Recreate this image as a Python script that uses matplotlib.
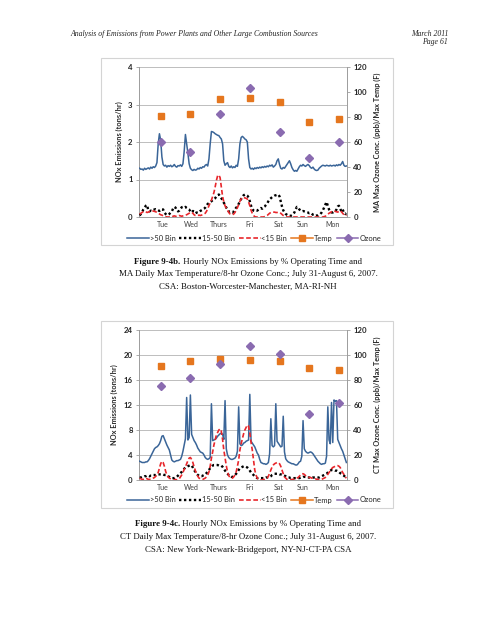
import matplotlib
matplotlib.use("Agg")
import matplotlib.pyplot as plt
from matplotlib.patches import Rectangle
from matplotlib.lines import Line2D
import numpy as np

# ---------------- data ----------------
days = ["Tue", "Wed", "Thurs", "Fri", "Sat", "Sun", "Mon"]
series_labels = [">50 Bin", "15-50 Bin", "<15 Bin", "Temp", "Ozone"]

# Chart 1: MA (Boston-Worcester-Manchester), hourly NOx (tons/hr)
ma_gt50 = [1.30,1.27,1.28,1.25,1.30,1.27,1.29,1.31,1.28,1.33,1.30,1.34,
           1.32,1.36,1.45,1.95,2.22,2.05,1.60,1.40,1.36,1.38,1.33,1.37,
           1.35,1.38,1.34,1.36,1.40,1.35,1.33,1.37,1.36,1.39,1.35,1.42,
           1.75,2.20,1.95,1.70,1.42,1.30,1.26,1.24,1.27,1.25,1.26,1.30,
           1.28,1.32,1.30,1.34,1.33,1.38,1.40,1.36,1.55,1.95,2.28,2.27,
           2.25,2.22,2.20,2.18,2.17,2.12,2.08,1.95,1.50,1.38,1.42,1.45,
           1.35,1.32,1.36,1.31,1.34,1.32,1.38,1.35,1.55,1.95,2.12,2.15,
           2.12,2.08,2.06,2.00,1.55,1.32,1.28,1.30,1.27,1.31,1.29,1.32,
           1.30,1.33,1.31,1.34,1.32,1.35,1.33,1.36,1.34,1.38,1.36,1.39,
           1.33,1.36,1.40,1.50,1.55,1.40,1.30,1.28,1.32,1.30,1.35,1.40,
           1.45,1.50,1.42,1.32,1.26,1.22,1.24,1.22,1.28,1.34,1.38,1.36,
           1.40,1.37,1.35,1.38,1.40,1.37,1.32,1.30,1.33,1.28,1.25,1.24,
           1.25,1.30,1.33,1.36,1.38,1.37,1.36,1.38,1.37,1.36,1.38,1.36,
           1.37,1.38,1.36,1.39,1.37,1.40,1.38,1.42,1.48,1.38,1.35,1.36]
ma_15_50 = [0.04,0.08,0.13,0.20,0.25,0.30,0.32,0.18,0.15,0.17,0.16,0.19,
            0.20,0.21,0.20,0.18,0.16,0.20,0.21,0.20,0.12,0.08,0.05,0.06,
            0.08,0.12,0.15,0.22,0.27,0.25,0.18,0.15,0.17,0.22,0.26,0.27,
            0.25,0.27,0.24,0.22,0.20,0.15,0.12,0.16,0.15,0.10,0.12,0.11,
            0.13,0.16,0.18,0.20,0.22,0.25,0.30,0.35,0.37,0.40,0.42,0.45,
            0.48,0.50,0.55,0.58,0.60,0.55,0.50,0.45,0.38,0.33,0.25,0.20,
            0.15,0.13,0.14,0.12,0.15,0.20,0.25,0.28,0.35,0.42,0.48,0.53,
            0.58,0.60,0.59,0.57,0.52,0.42,0.30,0.22,0.17,0.16,0.18,0.17,
            0.20,0.22,0.24,0.22,0.26,0.28,0.32,0.36,0.42,0.47,0.50,0.53,
            0.55,0.57,0.58,0.59,0.60,0.55,0.42,0.28,0.18,0.12,0.08,0.06,
            0.04,0.03,0.03,0.05,0.08,0.12,0.20,0.27,0.25,0.20,0.18,0.15,
            0.16,0.15,0.14,0.13,0.12,0.10,0.11,0.09,0.06,0.05,0.03,0.04,
            0.04,0.06,0.08,0.12,0.18,0.25,0.33,0.40,0.30,0.20,0.15,0.12,
            0.12,0.14,0.15,0.20,0.28,0.30,0.22,0.15,0.20,0.12,0.08,0.10]
ma_lt15 = [0.07,0.10,0.12,0.14,0.15,0.14,0.12,0.13,0.15,0.14,0.15,0.16,
           0.15,0.14,0.12,0.10,0.08,0.06,0.05,0.03,0.02,0.01,0.00,0.00,
           0.00,0.01,0.00,0.02,0.03,0.02,0.01,0.03,0.04,0.03,0.02,0.03,
           0.04,0.05,0.06,0.08,0.10,0.12,0.13,0.10,0.06,0.04,0.03,0.04,
           0.05,0.04,0.05,0.06,0.08,0.10,0.15,0.22,0.30,0.38,0.45,0.55,
           0.65,0.80,0.97,1.10,1.12,1.05,0.80,0.55,0.40,0.30,0.24,0.18,
           0.12,0.08,0.07,0.06,0.08,0.12,0.18,0.25,0.33,0.42,0.48,0.52,
           0.52,0.51,0.50,0.48,0.40,0.30,0.18,0.10,0.04,0.01,0.00,0.00,
           0.00,0.00,0.00,0.00,0.00,0.01,0.02,0.04,0.07,0.10,0.12,0.13,
           0.13,0.13,0.12,0.12,0.13,0.12,0.10,0.07,0.04,0.02,0.01,0.00,
           0.00,0.00,0.00,0.00,0.00,0.00,0.00,0.00,0.00,0.00,0.00,0.00,
           0.00,0.00,0.00,0.00,0.00,0.00,0.00,0.00,0.00,0.00,0.00,0.00,
           0.00,0.00,0.00,0.00,0.00,0.01,0.02,0.04,0.07,0.10,0.12,0.14,
           0.15,0.16,0.15,0.14,0.13,0.15,0.17,0.14,0.10,0.06,0.03,0.05]
ma_temp = [81, 82, 94, 95, 92, 76, 78]
ma_ozone = [60, 52, 82, 103, 68, 47, 60]

# Chart 2: CT (New York-Newark-Bridgeport), hourly NOx (tons/hr)
ct_gt50 = [3.0,2.9,2.8,2.8,2.8,2.9,2.9,3.1,3.4,3.8,4.2,4.6,
           5.0,5.2,5.3,5.5,5.8,6.3,7.0,7.1,6.6,6.1,5.6,5.2,
           4.8,4.0,3.2,3.0,2.9,3.0,3.1,3.1,3.2,3.3,3.8,4.6,
           5.6,6.6,13.2,6.4,6.8,13.6,7.3,6.8,6.3,6.0,5.6,5.1,
           4.8,4.5,4.4,4.3,4.0,3.6,3.4,3.3,3.4,3.6,12.2,6.3,
           6.4,6.5,6.7,7.0,7.2,7.4,7.5,7.3,6.5,12.7,5.0,4.0,
           3.6,3.4,3.3,3.3,3.4,3.5,3.8,4.6,11.7,5.8,5.5,5.6,
           5.9,6.0,6.2,6.3,6.4,13.7,6.2,5.9,5.6,5.3,4.8,4.3,
           4.0,3.3,2.8,2.7,2.6,2.6,2.5,2.6,2.8,4.2,9.8,5.5,
           5.3,5.5,12.2,6.2,5.9,5.6,5.3,5.4,10.2,4.5,3.4,3.1,
           2.9,2.8,2.7,2.6,2.6,2.5,2.4,2.4,2.6,2.9,3.0,3.8,
           9.5,5.0,4.6,4.4,4.3,4.4,4.5,4.4,4.2,3.9,3.6,3.3,
           3.0,2.8,2.6,2.5,2.6,2.6,2.7,3.8,11.7,6.4,5.8,12.4,
           6.0,12.8,12.6,12.7,6.5,6.0,5.5,5.0,4.6,4.0,3.4,2.8]
ct_15_50 = [0.4,0.4,0.5,0.5,0.6,0.6,0.7,0.7,0.6,0.7,0.7,0.8,
            0.8,0.8,0.9,0.9,0.9,0.9,0.9,0.9,0.8,0.8,0.7,0.6,
            0.5,0.4,0.3,0.3,0.3,0.4,0.5,0.7,0.9,1.1,1.3,1.6,
            1.8,2.0,2.1,2.2,2.3,2.4,2.3,2.0,1.6,1.3,1.0,0.8,
            0.7,0.6,0.6,0.7,0.8,0.9,1.1,1.3,1.6,1.9,2.1,2.3,
            2.4,2.4,2.4,2.4,2.3,2.3,2.3,2.1,1.8,1.5,1.2,1.0,
            0.8,0.6,0.5,0.5,0.6,0.8,1.0,1.3,1.6,1.9,2.0,2.1,
            2.2,2.2,2.1,2.0,1.8,1.5,1.2,1.0,0.8,0.6,0.4,0.3,
            0.3,0.3,0.3,0.3,0.3,0.3,0.4,0.4,0.4,0.5,0.6,0.8,
            0.9,1.0,1.0,1.0,1.0,0.9,0.9,0.9,0.8,0.7,0.6,0.5,
            0.4,0.4,0.3,0.3,0.3,0.3,0.3,0.3,0.3,0.3,0.4,0.4,
            0.5,0.5,0.5,0.4,0.4,0.4,0.3,0.3,0.4,0.4,0.4,0.4,
            0.4,0.4,0.5,0.6,0.7,0.8,0.9,1.0,1.2,1.4,1.5,1.6,
            1.6,1.6,1.5,1.5,1.4,1.3,1.1,1.0,0.8,0.7,0.5,0.4]
ct_lt15 = [0.3,0.2,0.1,0.1,0.2,0.3,0.2,0.1,0.1,0.1,0.2,0.3,
           0.4,0.6,0.8,1.2,1.9,2.6,3.0,2.8,2.2,1.4,0.8,0.5,
           0.3,0.2,0.1,0.0,0.0,0.1,0.0,0.1,0.2,0.5,0.8,1.2,
           1.7,2.1,2.6,3.1,3.5,3.6,3.3,2.8,2.1,1.5,1.0,0.6,
           0.3,0.2,0.1,0.1,0.2,0.3,0.5,0.8,1.3,2.2,3.5,4.5,
           5.6,6.4,7.2,7.6,8.0,8.2,7.8,6.5,4.8,3.5,2.3,1.3,
           0.7,0.4,0.3,0.3,0.5,0.8,1.3,2.2,3.2,4.8,5.8,6.6,
           7.4,8.0,8.4,8.8,8.6,7.5,6.0,4.8,3.2,1.6,0.8,0.3,
           0.1,0.0,0.0,0.0,0.1,0.1,0.2,0.3,0.6,1.1,1.6,2.1,
           2.4,2.6,2.7,2.8,2.8,2.6,2.2,1.6,1.0,0.5,0.3,0.1,
           0.0,0.0,0.0,0.1,0.1,0.1,0.2,0.3,0.4,0.6,0.8,1.0,
           1.0,0.9,0.7,0.6,0.5,0.4,0.4,0.3,0.3,0.2,0.2,0.1,
           0.1,0.0,0.0,0.1,0.2,0.3,0.4,0.6,0.9,1.2,1.5,1.8,
           2.0,2.1,2.2,2.3,2.3,2.2,2.0,1.6,1.2,0.9,0.5,0.3]
ct_temp = [91, 95, 97, 96, 95, 90, 88]
ct_ozone = [75, 82, 93, 107, 101, 53, 62]

# ---------------- style ----------------
W, H = 495, 640
BLUE = "#3a6598"
RED = "#e8262b"
ORANGE = "#e5761e"
PURPLE = "#8a6bb0"
GRID = "#bdbdbd"
AXC = "#9c9c9c"
TXT = "#262626"
CHART_FONT = ["Lato", "DejaVu Sans"]
SERIF = ["Liberation Serif", "DejaVu Serif"]

fig = plt.figure(figsize=(W / 100, H / 100), dpi=100)
fig.patch.set_facecolor("white")


def px_rect(x0, y0, x1, y1):
    return [x0 / W, 1 - y1 / H, (x1 - x0) / W, (y1 - y0) / H]


def draw_chart(plot_box, frame_box, gt50, mid, lt15, temp, ozone,
               ymax, ystep, right_label, legend_y):
    fr = px_rect(*frame_box)
    fig.add_artist(Rectangle((fr[0], fr[1]), fr[2], fr[3], transform=fig.transFigure,
                             facecolor="white", edgecolor="#d4d4d4", lw=0.8, zorder=0))
    ax = fig.add_axes(px_rect(*plot_box))
    ax.patch.set_alpha(0)
    hours = np.arange(len(gt50))
    l1, = ax.plot(hours, gt50, color=BLUE, lw=1.1, zorder=3)
    l2, = ax.plot(hours, mid, color="black", lw=1.7, linestyle=(0, (1, 1.1)), zorder=3)
    l3, = ax.plot(hours, lt15, color=RED, lw=1.2, linestyle=(0, (2.8, 1.5)), zorder=3)
    ax.set_xlim(-0.5, len(gt50) - 0.5)
    ax.set_ylim(0, ymax)
    ax.set_yticks(np.arange(0, ymax + 0.001, ystep))
    ax.set_yticklabels([f"{v:g}" for v in np.arange(0, ymax + 0.001, ystep)],
                       fontsize=5.6, fontweight="bold", family=CHART_FONT, color=TXT)
    ax.yaxis.grid(True, color=GRID, lw=0.7)
    ax.set_axisbelow(True)
    ax.set_xticks([19, 41.5, 64, 89, 112.5, 132, 155.5])
    ax.set_xticklabels(days, fontsize=5.0, family=CHART_FONT, color="#404040")
    ax.tick_params(axis="x", length=0, pad=3)
    ax.tick_params(axis="y", direction="out", length=2.5, width=0.6, color=AXC, pad=2)
    for s in ["top", "right"]:
        ax.spines[s].set_visible(False)
    for s in ["left", "bottom"]:
        ax.spines[s].set_color(AXC)
        ax.spines[s].set_linewidth(0.7)
    ax.set_ylabel("NOx Emissions (tons/hr)", fontsize=5.3, fontweight="bold",
                  family=CHART_FONT, color=TXT, labelpad=4)

    ax2 = ax.twinx()
    day_hours = np.arange(len(temp)) * 24 + 17
    ax2.plot(day_hours, temp, linestyle="none", marker="s", ms=4.2, color=ORANGE, zorder=4)
    ax2.plot(day_hours, ozone, linestyle="none", marker="D", ms=3.8, color=PURPLE, zorder=4)
    ax2.set_ylim(0, 120)
    ax2.set_yticks(np.arange(0, 121, 20))
    ax2.set_yticklabels([str(v) for v in range(0, 121, 20)], fontsize=5.6,
                        fontweight="bold", family=CHART_FONT, color=TXT)
    ax2.tick_params(axis="y", direction="out", length=2.5, width=0.6, color=AXC, pad=2)
    for s in ["top", "left", "bottom"]:
        ax2.spines[s].set_visible(False)
    ax2.spines["right"].set_color(AXC)
    ax2.spines["right"].set_linewidth(0.7)
    ax2.set_ylabel(right_label, fontsize=5.3, fontweight="bold", family=CHART_FONT,
                   color=TXT, labelpad=5)

    h4 = Line2D([], [], color=ORANGE, lw=1.1, marker="s", ms=4.0)
    h5 = Line2D([], [], color=PURPLE, lw=1.1, marker="D", ms=3.6)
    leg = fig.legend([l1, l2, l3, h4, h5], series_labels, loc="center",
                     bbox_to_anchor=(254 / W, 1 - legend_y / H), ncol=5, frameon=False,
                     prop={"family": CHART_FONT, "size": 5.4}, handlelength=2.9,
                     handletextpad=0.1, columnspacing=0.55, borderpad=0)
    for t in leg.get_texts():
        t.set_color(TXT)
    return ax, ax2


draw_chart((139, 67, 347, 217), (101, 58, 393, 245), ma_gt50, ma_15_50, ma_lt15,
           ma_temp, ma_ozone, 4, 1, "MA Max Ozone Conc. (ppb)/Max Temp (F)", 238.5)
draw_chart((139, 330, 347, 480), (101, 321, 393, 508), ct_gt50, ct_15_50, ct_lt15,
           ct_temp, ct_ozone, 24, 4, "CT Max Ozone Conc. (ppb)/Max Temp (F)", 500)

# ---------------- page text ----------------
fig.text(70 / W, 1 - 33.5 / H,
         "Analysis of Emissions from Power Plants and Other Large Combustion Sources",
         family=SERIF, style="italic", fontsize=5.6, ha="left", va="center", color="#222222")
fig.text(448 / W, 1 - 33.5 / H, "March 2011", family=SERIF, style="italic",
         fontsize=5.6, ha="right", va="center", color="#222222")
fig.text(448 / W, 1 - 41.5 / H, "Page 61", family=SERIF, style="italic",
         fontsize=5.6, ha="right", va="center", color="#222222")

fig.canvas.draw()
renderer = fig.canvas.get_renderer()


def caption(lines, bold_head, ys, cx=248):
    for i, (line, y) in enumerate(zip(lines, ys)):
        yf = 1 - y / H
        if i == 0:
            tb = fig.text(0, yf, bold_head, family=SERIF, fontweight="bold",
                          fontsize=6.4, ha="left", va="center", color="#111111")
            tr = fig.text(0, yf, " " + line, family=SERIF, fontsize=6.4,
                          ha="left", va="center", color="#111111")
            wb = tb.get_window_extent(renderer).width
            wr = tr.get_window_extent(renderer).width
            x0 = cx - (wb + wr) / 2
            tb.set_x(x0 / W)
            tr.set_x((x0 + wb) / W)
        else:
            fig.text(cx / W, yf, line, family=SERIF, fontsize=6.4, ha="center",
                     va="center", color="#111111")


caption(["Hourly NOx Emissions by % Operating Time and",
         "MA Daily Max Temperature/8-hr Ozone Conc.; July 31-August 6, 2007.",
         "CSA: Boston-Worcester-Manchester, MA-RI-NH"],
        "Figure 9-4b.", [262, 274.5, 287])
caption(["Hourly NOx Emissions by % Operating Time and",
         "CT Daily Max Temperature/8-hr Ozone Conc.; July 31-August 6, 2007.",
         "CSA: New York-Newark-Bridgeport, NY-NJ-CT-PA CSA"],
        "Figure 9-4c.", [524.5, 537, 550])

fig.savefig("out.png", dpi=100, facecolor="white")
